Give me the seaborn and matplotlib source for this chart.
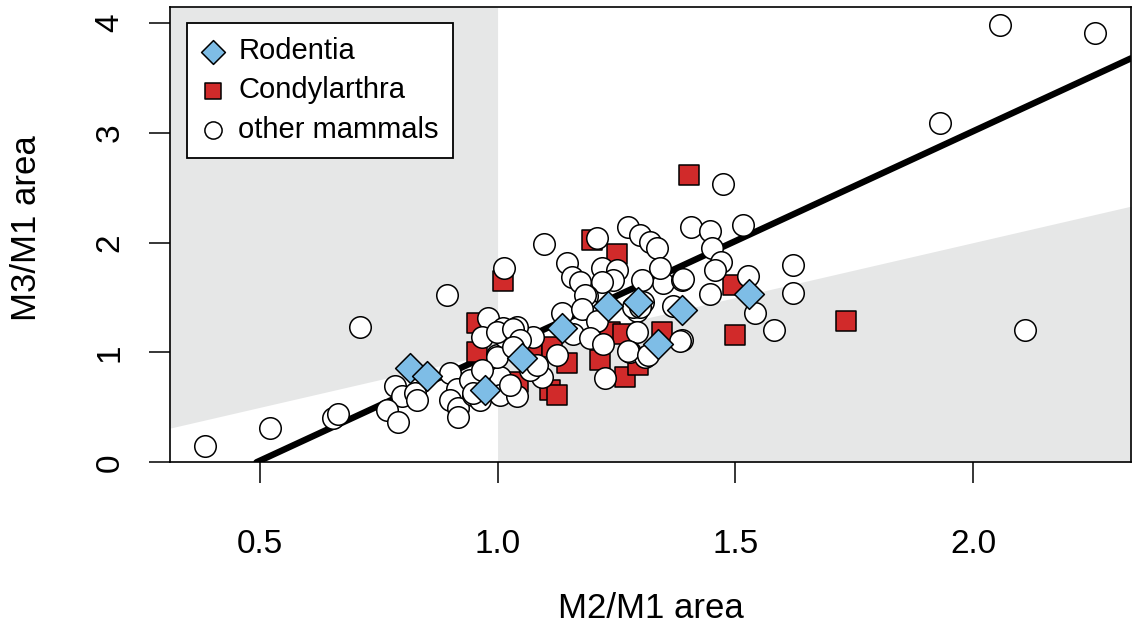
import numpy as np
import pandas as pd
import matplotlib
matplotlib.use("Agg")
import matplotlib.pyplot as plt
import seaborn as sns

# values
rodentia_x = [0.816, 0.851, 0.973, 1.051, 1.135, 1.232, 1.295, 1.388, 1.337, 1.529]
rodentia_y = [0.86, 0.79, 0.66, 0.95, 1.22, 1.42, 1.46, 1.39, 1.08, 1.53]

condy_x = [0.957, 0.957, 1.011, 1.043, 1.072, 1.114, 1.110, 1.125, 1.146, 1.198,
           1.251, 1.236, 1.264, 1.346, 1.215, 1.268, 1.295, 1.403, 1.495, 1.499,
           1.733]
condy_y = [1.27, 1.00, 1.65, 0.73, 1.00, 1.05, 0.66, 0.61, 0.90, 2.02,
           1.90, 1.19, 1.17, 1.19, 0.93, 0.78, 0.89, 2.62, 1.61, 1.16,
           1.29]

other_x = [0.384, 0.521, 0.654, 0.664, 0.710, 0.893, 2.057, 2.257, 1.930, 2.109,
           1.474, 1.516, 1.621, 1.621, 1.541, 1.581, 1.527, 1.447, 1.388, 1.369,
           1.407, 1.447, 1.451, 1.470, 1.457, 1.348, 1.388,
           1.274, 1.300, 1.320, 1.335, 1.098, 1.209, 1.013, 1.146, 1.156, 1.173,
           1.220, 1.251, 1.243, 1.220, 1.304, 1.342, 1.390, 1.188, 1.190, 1.135,
           1.293, 1.285, 1.306, 1.184, 1.177, 1.209, 1.300, 1.159, 1.194, 1.222,
           1.293, 1.278, 1.310, 1.384, 1.125, 1.093, 1.226, 1.274, 1.316,
           0.784, 0.799, 0.826, 0.830, 0.767, 0.790, 0.900, 0.914, 0.900, 0.917,
           0.917, 0.942, 0.948, 0.963, 0.980, 0.967, 0.999, 1.005, 1.015, 1.043,
           1.074, 1.040, 1.011, 1.005, 1.040, 0.999, 1.032, 1.047, 0.999, 0.967,
           1.068, 1.083, 1.032, 1.026, 0.948]
other_y = [0.15, 0.31, 0.40, 0.44, 1.23, 1.52, 3.98, 3.91, 3.09, 1.20,
           2.53, 2.16, 1.80, 1.54, 1.36, 1.20, 1.70, 1.53, 1.11, 1.42,
           2.14, 2.11, 1.95, 1.82, 1.75, 1.63, 1.66,
           2.14, 2.07, 2.01, 1.95, 1.99, 2.04, 1.77, 1.81, 1.69, 1.64,
           1.77, 1.75, 1.66, 1.64, 1.66, 1.77, 1.67, 1.51, 1.40, 1.36,
           1.38, 1.41, 1.46, 1.52, 1.40, 1.29, 1.41, 1.17, 1.13, 1.08,
           1.19, 1.00, 0.96, 1.10, 0.98, 0.78, 0.77, 1.01, 0.98,
           0.69, 0.60, 0.63, 0.57, 0.48, 0.37, 0.81, 0.67, 0.57, 0.49,
           0.41, 0.75, 0.61, 0.57, 1.31, 1.14, 0.98, 0.78, 1.14, 1.13,
           1.14, 1.23, 1.22, 0.61, 0.60, 1.19, 1.21, 1.11, 0.96, 0.84,
           0.84, 0.89, 1.05, 0.70, 0.63]

fit_intercept = -0.986
fit_slope = 2.0

x_range = [0.311, 2.332]
y_range = [0.0, 4.143]

rod = pd.DataFrame({"x": rodentia_x, "y": rodentia_y})
con = pd.DataFrame({"x": condy_x, "y": condy_y})
oth = pd.DataFrame({"x": other_x, "y": other_y})

sns.set_style("ticks")
plt.rcParams["font.family"] = ["Liberation Sans", "DejaVu Sans"]
plt.rcParams.update({"text.color": "black", "axes.labelcolor": "black",
                     "xtick.color": "black", "ytick.color": "black"})

fig = plt.figure(figsize=(11.33, 6.28), dpi=100)
ax = fig.add_axes([0.1500, 0.2639, 0.8482, 0.7245])

shade = "#e6e7e7"
# grey zones: left of 1 above the 1:1 line, right of 1 below it
xl = np.linspace(x_range[0], 1.0, 50)
xr = np.linspace(1.0, x_range[1], 50)
ax.fill_between(xl, xl, y_range[1], color=shade, lw=0, zorder=0)
ax.fill_between(xr, y_range[0], xr, color=shade, lw=0, zorder=0)

ax.axline((0, fit_intercept), slope=fit_slope, color="black", lw=4.6, zorder=1.5)

sns.scatterplot(data=con, x="x", y="y", marker="s", s=215, color="#d12a2a",
                edgecolor="black", linewidth=1.1, ax=ax, zorder=3, label="Condylarthra")
sns.scatterplot(data=oth, x="x", y="y", marker="o", s=240, color="white",
                edgecolor="black", linewidth=1.1, ax=ax, zorder=3, label="other mammals")
sns.scatterplot(data=rod, x="x", y="y", marker="D", s=230, color="#7ebde6",
                edgecolor="black", linewidth=1.1, ax=ax, zorder=4, label="Rodentia")

ax.set_xlim(x_range)
ax.set_ylim(y_range)
ax.set_xticks([0.5, 1.0, 1.5, 2.0])
ax.set_xticklabels(["0.5", "1.0", "1.5", "2.0"])
ax.set_yticks([0, 1, 2, 3, 4])
ax.set_yticklabels(["0", "1", "2", "3", "4"], rotation=90, va="center")
ax.tick_params(axis="both", length=15, width=1.1, color="black", labelsize=24)
ax.tick_params(axis="x", pad=33)
ax.tick_params(axis="y", pad=17)
for sp in ax.spines.values():
    sp.set_visible(True)
    sp.set_color("black")
    sp.set_linewidth(1.2)

ax.set_xlabel("M2/M1 area", fontsize=25)
ax.set_ylabel("M3/M1 area", fontsize=25)
ax.xaxis.set_label_coords(0.5, -0.285)
ax.yaxis.set_label_coords(-0.132, 0.515)

handles, labels = ax.get_legend_handles_labels()
order = [labels.index(n) for n in ["Rodentia", "Condylarthra", "other mammals"]]
leg = ax.legend([handles[i] for i in order], [labels[i] for i in order],
                loc="upper left", bbox_to_anchor=(0.018, 0.966), borderaxespad=0,
                fontsize=21, markerscale=0.8, frameon=True, fancybox=False,
                edgecolor="black", framealpha=1, handlelength=0.8,
                handletextpad=0.45, labelspacing=0.38, borderpad=0.5)
leg.get_frame().set_linewidth(1.3)
leg.set_zorder(10)

fig.savefig("out.png", dpi=100)
